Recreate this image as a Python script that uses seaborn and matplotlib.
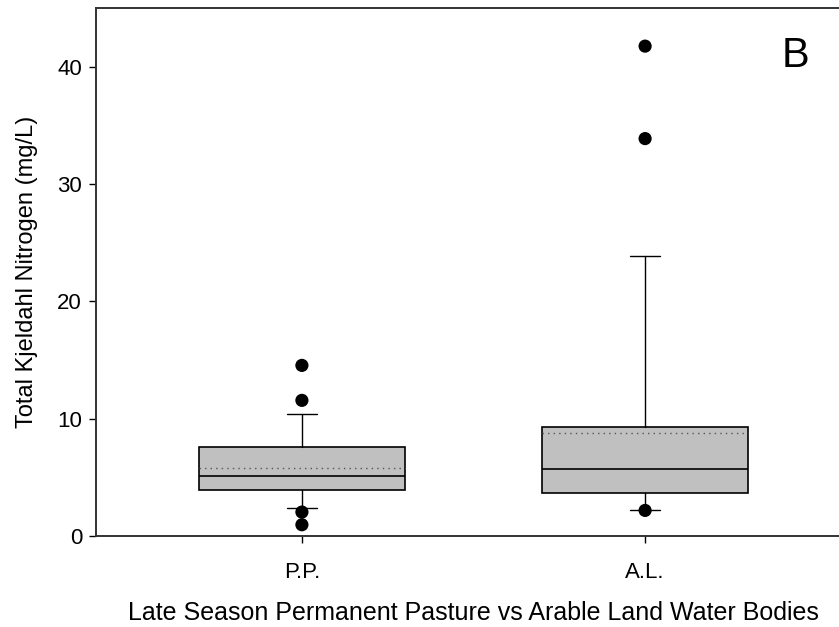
import matplotlib
matplotlib.use("Agg")
import matplotlib.pyplot as plt
import seaborn as sns
import pandas as pd

# Summary statistics per land-use group (mg/L)
groups = ["P.P.", "A.L."]
p10 = [2.35, 2.21]
q1 = [3.91, 3.66]
medians = [5.13, 5.70]
means = [5.81, 8.79]
q3 = [7.59, 9.33]
p90 = [10.40, 23.83]
outlier_group = ["P.P.", "P.P.", "P.P.", "P.P.", "A.L.", "A.L.", "A.L."]
outlier_value = [14.54, 11.56, 2.04, 0.96, 41.75, 33.87, 2.18]

sns.set_theme(style="ticks")
plt.rcParams["font.family"] = ["Liberation Sans", "DejaVu Sans"]

fig = plt.figure(figsize=(8.39, 6.27), dpi=100)
ax = fig.add_axes([96 / 839, (627 - 536) / 627, 755 / 839, 528 / 627])

positions = list(range(1, len(groups) + 1))
stats = []
for i, g in enumerate(groups):
    stats.append(dict(label=g, whislo=p10[i], q1=q1[i], med=medians[i],
                      mean=means[i], q3=q3[i], whishi=p90[i], fliers=[]))

ax.bxp(stats, positions=positions, widths=0.6, capwidths=0.087,
       patch_artist=True, showmeans=True, meanline=True, showfliers=False,
       boxprops=dict(facecolor="#c0c0c0", edgecolor="black", linewidth=1.2),
       medianprops=dict(color="black", linewidth=1.2),
       meanprops=dict(color="#555555", linestyle=(0, (1, 3)), linewidth=1.0),
       whiskerprops=dict(color="black", linewidth=1.0),
       capprops=dict(color="black", linewidth=1.0))

flier_df = pd.DataFrame({
    "pos": [positions[groups.index(g)] for g in outlier_group],
    "value": outlier_value,
})
sns.scatterplot(data=flier_df, x="pos", y="value", ax=ax, color="black",
                s=90, edgecolor="none", zorder=5, legend=False)

ax.set_xlim(0.4, 2.6)
ax.set_ylim(0, 45)
ax.set_xticks(positions)
ax.set_xticklabels(groups)
ax.set_yticks([0, 10, 20, 30, 40])
ax.tick_params(axis="both", direction="out", length=5, width=1.0,
               labelsize=16, color="black", labelcolor="black")
ax.tick_params(axis="x", pad=14)
ax.tick_params(axis="y", pad=5)

for side in ["left", "bottom", "top", "right"]:
    ax.spines[side].set_visible(True)
    ax.spines[side].set_color("#333333")
    ax.spines[side].set_linewidth(1.4)

ax.set_xlabel("Late Season Permanent Pasture vs Arable Land Water Bodies",
              fontsize=18, color="black", labelpad=13)
ax.set_ylabel("Total Kjeldahl Nitrogen (mg/L)", fontsize=17, color="black",
              labelpad=14)
ax.text(2.437, 40.9, "B", fontsize=30, ha="center", va="center",
        color="black")

fig.savefig("out.png", dpi=100)
